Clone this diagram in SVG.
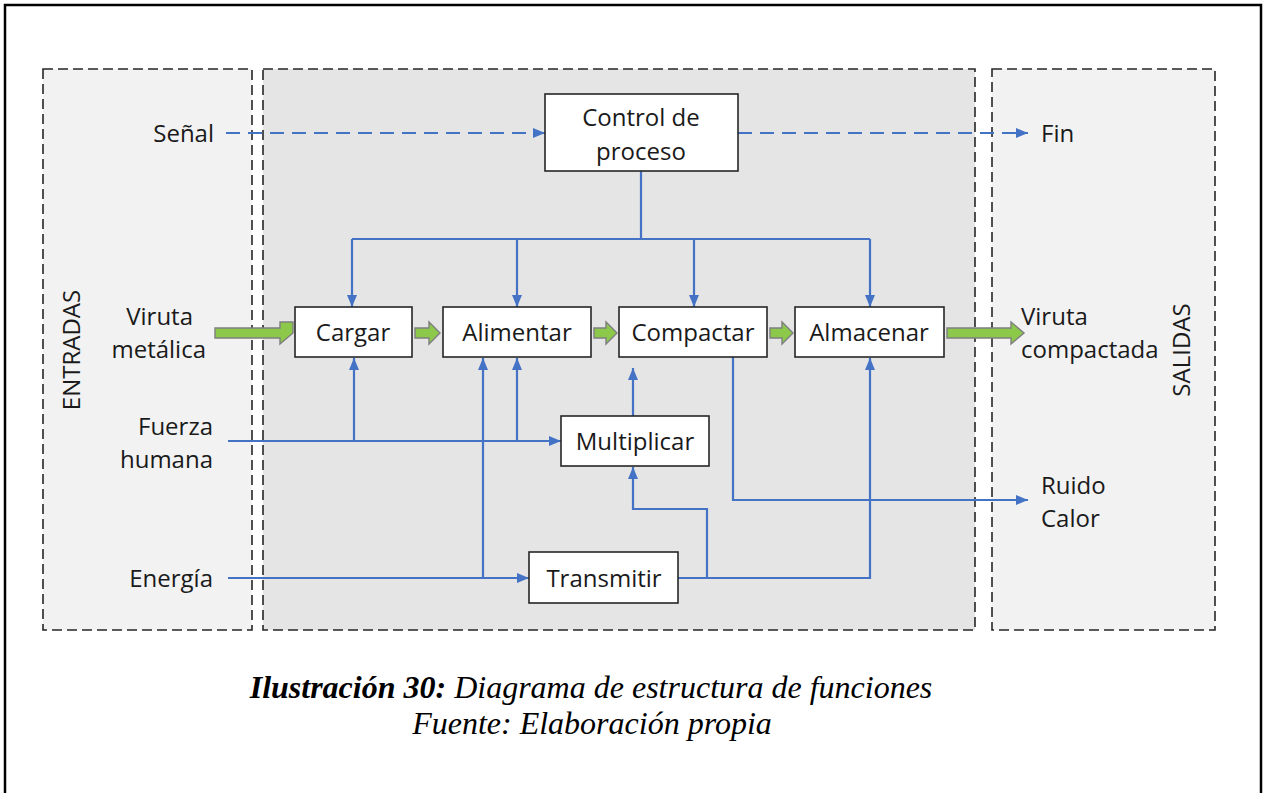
<svg xmlns="http://www.w3.org/2000/svg" width="1267" height="793" viewBox="0 0 1267 793">
  <style>
    .zone { stroke: #262626; stroke-width: 1.6; stroke-dasharray: 10 5; }
    .box { fill: #ffffff; stroke: #262626; stroke-width: 1.6; }
    .lbl { font-family: "Open Sans", "Noto Sans", "DejaVu Sans", sans-serif; font-size: 24px; fill: #1a1a1a; }
    .flow { fill: none; stroke: #4472c4; stroke-width: 2.2; }
    .dash { stroke-dasharray: 14 8; }
    .mat { fill: #8cc94b; stroke: #7f7f7f; stroke-width: 1.4; }
    .cap { font-family: "Liberation Serif", "Times New Roman", serif; font-size: 32px; font-style: italic; fill: #000; }
  </style>
  <defs>
    <marker id="ah" viewBox="0 0 12 10" refX="12" refY="5" markerWidth="12" markerHeight="10" markerUnits="userSpaceOnUse" orient="auto">
      <path d="M0,0 L12,5 L0,10 z" fill="#4472c4"/>
    </marker>
  </defs>

  <rect width="1267" height="793" fill="#ffffff"/>
  <!-- frame -->
  <path d="M5,800 V5 H1261 V800" fill="none" stroke="#000" stroke-width="2.5"/>

  <!-- zones -->
  <g id="zones">
    <rect class="zone" x="43" y="69" width="209" height="561" fill="#f2f2f2"/>
    <rect class="zone" x="263" y="69" width="712" height="561" fill="#e5e5e5"/>
    <rect class="zone" x="992" y="69" width="223" height="561" fill="#f2f2f2"/>
    <text class="lbl" transform="translate(80,350) rotate(-90)" text-anchor="middle">ENTRADAS</text>
    <text class="lbl" transform="translate(1190,350) rotate(-90)" text-anchor="middle">SALIDAS</text>
  </g>

  <!-- connectors -->
  <g id="connectors">
    <path class="flow dash" d="M226,133 H545" marker-end="url(#ah)"/>
    <path class="flow dash" d="M738,133 H1028" marker-end="url(#ah)"/>
    <path class="flow" d="M641,171 V239"/>
    <path class="flow" d="M352,239 H870"/>
    <path class="flow" d="M352,239 V307" marker-end="url(#ah)"/>
    <path class="flow" d="M517,239 V307" marker-end="url(#ah)"/>
    <path class="flow" d="M694,239 V307" marker-end="url(#ah)"/>
    <path class="flow" d="M870,239 V307" marker-end="url(#ah)"/>

    <!-- human force -->
    <path class="flow" d="M228,441 H561" marker-end="url(#ah)"/>
    <path class="flow" d="M354,441 V358" marker-end="url(#ah)"/>
    <path class="flow" d="M517,441 V358" marker-end="url(#ah)"/>

    <!-- energy -->
    <path class="flow" d="M228,578 H529" marker-end="url(#ah)"/>
    <path class="flow" d="M483,578 V358" marker-end="url(#ah)"/>
    <path class="flow" d="M678,578 H870 V358" marker-end="url(#ah)"/>
    <path class="flow" d="M707,578 V509 H633 V467" marker-end="url(#ah)"/>

    <!-- multiplier to compactor -->
    <path class="flow" d="M633,416 V368" marker-end="url(#ah)"/>

    <!-- noise / heat -->
    <path class="flow" d="M733,357 V500 H1028" marker-end="url(#ah)"/>

    <!-- material flow -->
    <path class="mat" d="M215,328 H280 V322 H293 L293,333 L280,344 V338 H215 Z"/>
    <path class="mat" d="M415,328 H429 V322 L440,333 L429,344 V338 H415 Z"/>
    <path class="mat" d="M594,328 H606 V322 L617,333 L606,344 V338 H594 Z"/>
    <path class="mat" d="M770,328 H782 V322 L793,333 L782,344 V338 H770 Z"/>
    <path class="mat" d="M947,328 H1011 V322 L1024,333 L1011,344 V338 H947 Z"/>
  </g>

  <!-- nodes -->
  <g id="control">
    <rect class="box" x="545" y="94" width="193" height="77"/>
    <text class="lbl" x="641" y="126" text-anchor="middle">Control de</text>
    <text class="lbl" x="641" y="160" text-anchor="middle">proceso</text>
  </g>
  <g id="cargar">
    <rect class="box" x="295" y="307" width="117" height="50"/>
    <text class="lbl" x="353" y="341" text-anchor="middle">Cargar</text>
  </g>
  <g id="alimentar">
    <rect class="box" x="443" y="307" width="148" height="50"/>
    <text class="lbl" x="517" y="341" text-anchor="middle">Alimentar</text>
  </g>
  <g id="compactar">
    <rect class="box" x="619" y="307" width="148" height="50"/>
    <text class="lbl" x="693" y="341" text-anchor="middle">Compactar</text>
  </g>
  <g id="almacenar">
    <rect class="box" x="795" y="307" width="149" height="50"/>
    <text class="lbl" x="869" y="341" text-anchor="middle">Almacenar</text>
  </g>
  <g id="multiplicar">
    <rect class="box" x="561" y="416" width="148" height="50"/>
    <text class="lbl" x="635" y="450" text-anchor="middle">Multiplicar</text>
  </g>
  <g id="transmitir">
    <rect class="box" x="529" y="552" width="149" height="51"/>
    <text class="lbl" x="604" y="587" text-anchor="middle">Transmitir</text>
  </g>

  <!-- inputs and outputs -->
  <g id="inputs">
    <text class="lbl" x="214" y="142" text-anchor="end">Señal</text>
    <text class="lbl" x="193" y="325" text-anchor="end">Viruta</text>
    <text class="lbl" x="206" y="358" text-anchor="end">metálica</text>
    <text class="lbl" x="213" y="435" text-anchor="end">Fuerza</text>
    <text class="lbl" x="213" y="468" text-anchor="end">humana</text>
    <text class="lbl" x="213" y="587" text-anchor="end">Energía</text>
  </g>
  <g id="outputs">
    <text class="lbl" x="1041" y="142">Fin</text>
    <text class="lbl" x="1021" y="325">Viruta</text>
    <text class="lbl" x="1021" y="358">compactada</text>
    <text class="lbl" x="1041" y="494">Ruido</text>
    <text class="lbl" x="1041" y="527">Calor</text>
  </g>

  <!-- caption -->
  <g id="caption">
    <text class="cap" x="591" y="698" text-anchor="middle"><tspan font-weight="bold">Ilustración 30:</tspan> Diagrama de estructura de funciones</text>
    <text class="cap" x="592" y="734" text-anchor="middle">Fuente: Elaboración propia</text>
  </g>
</svg>
